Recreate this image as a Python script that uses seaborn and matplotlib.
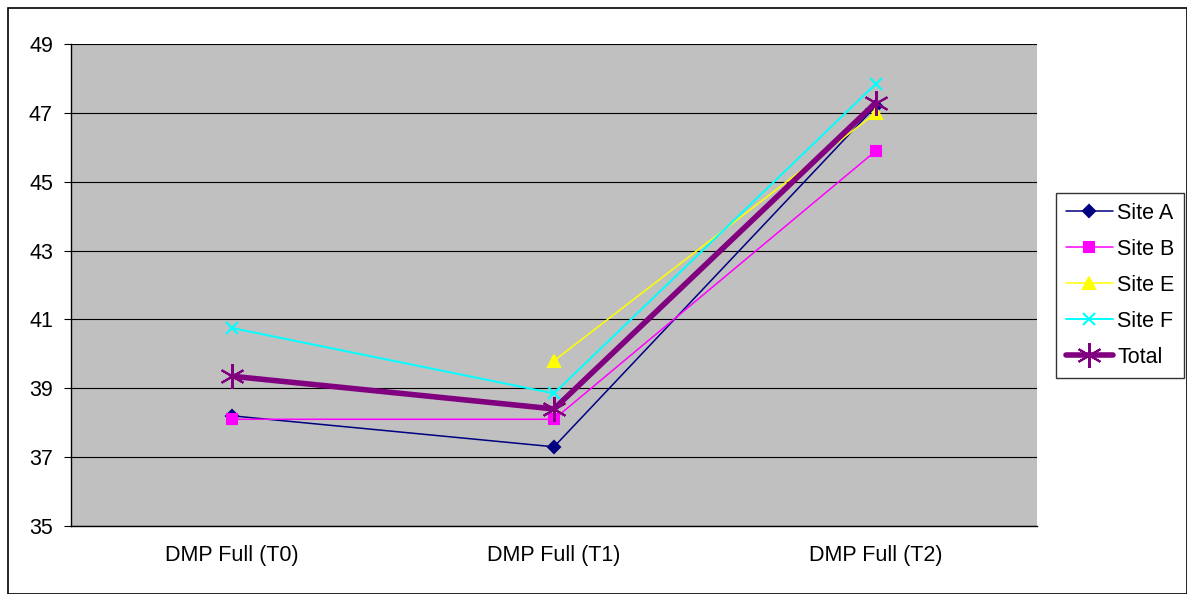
import numpy as np
import pandas as pd
import matplotlib.pyplot as plt
import seaborn as sns
from matplotlib.patches import Rectangle

sns.set_style('white')
plt.rcParams['font.family'] = ['Liberation Sans', 'DejaVu Sans']
plt.rcParams['text.color'] = 'black'
plt.rcParams['xtick.color'] = 'black'
plt.rcParams['ytick.color'] = 'black'

categories = ['DMP Full (T0)', 'DMP Full (T1)', 'DMP Full (T2)']
site_a = [38.2, 37.3, 47.2]
site_b = [38.1, 38.1, 45.9]
site_e = [np.nan, 39.8, 47.0]
site_f = [40.75, 38.85, 47.85]
total = [39.35, 38.4, 47.3]

series = ['Site A', 'Site B', 'Site E', 'Site F', 'Total']
values = [site_a, site_b, site_e, site_f, total]
colors = ['#000080', '#FF00FF', '#FFFF00', '#00FFFF', '#800080']
markers = ['D', 's', '^', 'x', (6, 2, 0)]
msizes = [6, 7, 8, 8, 18]
widths = [1.1, 1.1, 1.1, 1.4, 4]

fig = plt.figure(figsize=(11.87, 5.94), dpi=100)
ax = fig.add_axes([71/1187, 1-526/594, (1037-71)/1187, (526-44)/594])
ax.set_facecolor('#C0C0C0')

pos = np.arange(len(categories))
for name, vals, c, m, ms, lw in zip(series, values, colors, markers, msizes, widths):
    df = pd.DataFrame({'x': pos, 'y': vals}).dropna()
    sns.lineplot(data=df, x='x', y='y', ax=ax, color=c, marker=m, markersize=ms,
                 linewidth=lw, markeredgecolor=c, markeredgewidth=1.5, label=name)

ax.set_xlim(-0.5, 2.5)
ax.set_ylim(35, 49)
ax.set_yticks(np.arange(35, 50, 2))
ax.yaxis.grid(True, color='black', linewidth=0.8)
ax.set_axisbelow(True)
ax.set_xticks(pos)
ax.set_xticklabels(categories, fontsize=15.5)
ax.set_xticks([-0.5, 0.5, 1.5, 2.5], minor=True)
ax.tick_params(axis='x', which='major', length=0, pad=14)
ax.tick_params(axis='x', which='minor', length=5, direction='out', color='black')
ax.tick_params(axis='y', labelsize=15.5, length=5, direction='out', color='black', left=True, pad=8)
ax.set_xlabel('')
ax.set_ylabel('')
for side in ['top', 'right']:
    ax.spines[side].set_visible(False)
for side in ['left', 'bottom']:
    ax.spines[side].set_color('black')
    ax.spines[side].set_linewidth(1)

leg = ax.legend(loc='upper left', bbox_to_anchor=(1056/1187, 1-193/594), bbox_transform=fig.transFigure,
                fontsize=15.5, frameon=True, fancybox=False, edgecolor='black', handlelength=2.2,
                labelspacing=0.7, borderpad=0.45, handletextpad=0.2, borderaxespad=0)
leg.get_frame().set_linewidth(1)

fig.patches.append(Rectangle((8/1187, 0), 1 - 8/1187, 1 - 8/594, transform=fig.transFigure,
                             fill=False, edgecolor='black', linewidth=1.2))

fig.savefig('out.png', dpi=100)
